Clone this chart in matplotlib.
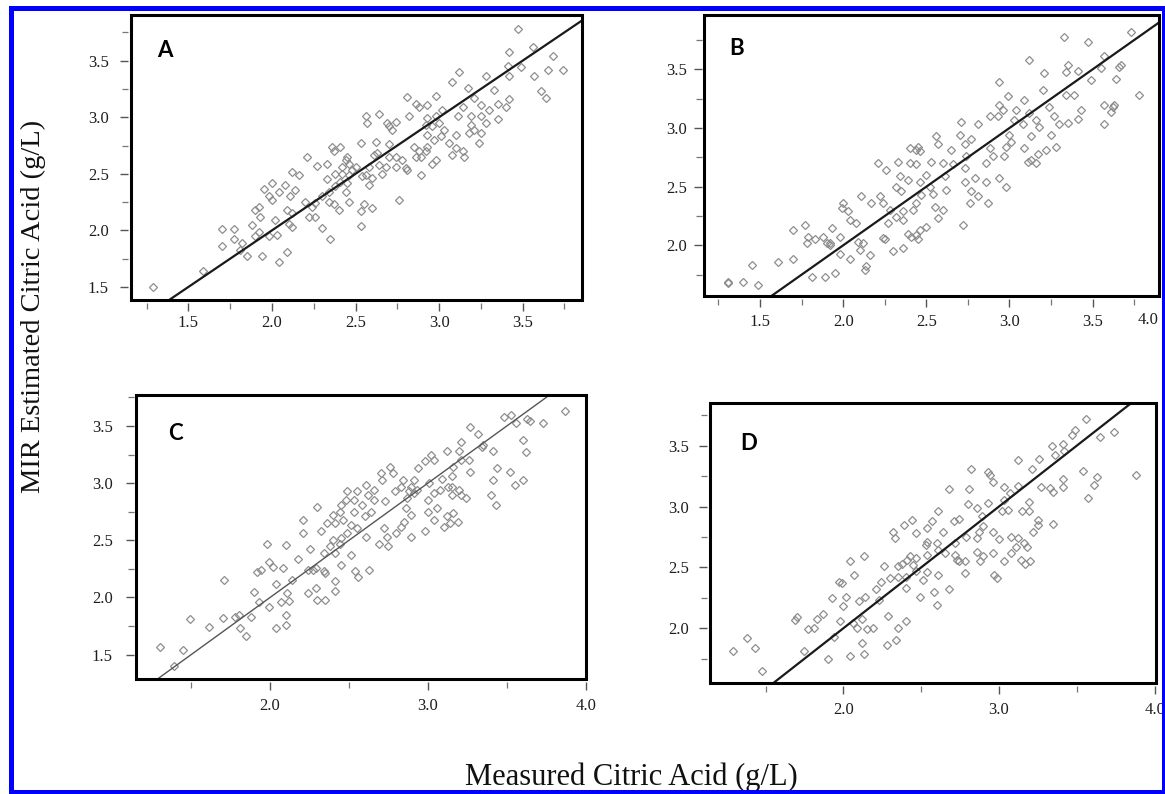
import matplotlib
matplotlib.use("Agg")
import matplotlib.pyplot as plt
from matplotlib.patches import Rectangle
from matplotlib.ticker import MultipleLocator

plt.rcParams['font.family'] = ['Liberation Serif', 'DejaVu Serif']

a_measured = [3.47, 3.42, 3.56, 3.68, 3.74, 3.65, 3.57, 3.49, 3.42, 3.41, 3.61, 3.64, 3.28, 3.33, 3.42, 3.35,
              3.40, 3.12, 3.08, 3.17, 3.21, 3.25, 3.30, 3.35, 3.25, 3.19, 3.14, 3.11, 3.28, 3.19, 3.21, 3.18,
              3.24, 3.25, 3.10, 3.06, 3.03, 3.01, 2.98, 2.93, 2.88, 2.81, 2.86, 3.02, 2.98, 2.93, 2.92, 2.96,
              3.00, 2.93, 2.97, 2.93, 2.88, 2.85, 2.92, 2.89, 2.86, 2.96, 2.98, 2.89, 3.08, 3.14, 3.15, 3.10,
              2.82, 2.74, 2.70, 2.72, 2.69, 2.64, 2.56, 2.57, 2.62, 2.53, 2.70, 2.70, 2.74, 2.78, 2.80, 2.81,
              2.74, 2.68, 2.66, 2.64, 2.61, 2.63, 2.58, 2.56, 2.60, 2.58, 2.54, 2.50, 2.48, 2.46, 2.44, 2.45,
              2.42, 2.42, 2.46, 2.41, 2.45, 2.44, 2.38, 2.41, 2.36, 2.37, 2.33, 2.27, 2.21, 2.33, 2.38, 2.34,
              2.30, 2.34, 2.37, 2.40, 2.46, 2.53, 2.55, 2.60, 2.53, 2.76, 2.30, 2.35, 2.26, 2.24, 2.22, 2.26,
              2.20, 2.16, 2.12, 2.14, 2.08, 2.11, 2.09, 2.12, 2.12, 2.10, 2.04, 2.00, 1.95, 1.98, 2.00, 2.02,
              2.03, 1.98, 1.92, 1.90, 1.93, 1.88, 1.92, 1.90, 1.94, 2.04, 2.09, 1.85, 1.81, 1.77, 1.77, 1.82,
              1.70, 1.70, 1.59, 1.29]
a_estimated = [3.78, 3.58, 3.62, 3.54, 3.42, 3.42, 3.36, 3.44, 3.36, 3.45, 3.23, 3.17, 3.36, 3.24, 3.16, 3.12,
               3.09, 3.40, 3.31, 3.26, 3.17, 3.11, 3.06, 2.98, 3.01, 3.01, 3.09, 3.01, 2.95, 2.93, 2.89, 2.86,
               2.77, 2.86, 2.84, 2.77, 2.89, 2.83, 3.19, 3.11, 3.09, 3.18, 3.12, 3.06, 3.01, 2.99, 2.93, 2.92,
               2.95, 2.84, 2.80, 2.74, 2.70, 2.74, 2.70, 2.65, 2.65, 2.59, 2.62, 2.49, 2.67, 2.70, 2.65, 2.73,
               3.01, 2.96, 2.92, 2.89, 2.95, 3.03, 3.01, 2.95, 2.78, 2.77, 2.76, 2.65, 2.65, 2.62, 2.55, 2.53,
               2.56, 2.56, 2.50, 2.58, 2.67, 2.68, 2.56, 2.49, 2.46, 2.40, 2.48, 2.56, 2.53, 2.59, 2.62, 2.65,
               2.56, 2.50, 2.49, 2.43, 2.42, 2.34, 2.50, 2.74, 2.74, 2.70, 2.59, 2.57, 2.65, 2.45, 2.39, 2.34,
               2.30, 2.25, 2.23, 2.18, 2.25, 2.17, 2.23, 2.20, 2.04, 2.27, 2.02, 1.92, 2.24, 2.21, 2.12, 2.12,
               2.25, 2.49, 2.52, 2.36, 2.40, 2.30, 2.18, 2.15, 2.03, 2.06, 2.34, 2.42, 2.37, 2.30, 2.27, 2.09,
               1.96, 1.95, 2.21, 2.18, 2.12, 2.05, 1.99, 1.95, 1.77, 1.72, 1.81, 1.77, 1.83, 1.92, 2.01, 1.89,
               2.01, 1.86, 1.64, 1.50]

b_measured = [3.73, 3.33, 3.47, 3.12, 3.21, 3.35, 3.34, 3.41, 3.49, 3.57, 3.55, 3.67, 3.66, 3.64, 3.78, 2.94,
              2.99, 2.94, 2.96, 2.93, 2.88, 3.04, 3.09, 3.03, 3.08, 3.12, 3.20, 3.24, 3.27, 3.16, 3.18, 3.25,
              3.28, 3.22, 3.17, 3.13, 3.11, 3.16, 3.09, 3.13, 3.00, 3.01, 2.97, 2.98, 2.94, 2.98, 2.86, 2.87,
              2.88, 2.90, 2.86, 2.81, 2.77, 2.71, 2.70, 2.73, 2.74, 2.73, 2.73, 2.79, 2.77, 2.76, 2.81, 2.72,
              2.66, 2.65, 2.60, 2.61, 2.62, 2.56, 2.57, 2.53, 2.50, 2.52, 2.54, 2.50, 2.57, 2.55, 2.60, 2.45,
              2.44, 2.46, 2.40, 2.40, 2.44, 2.39, 2.46, 2.47, 2.44, 2.42, 2.33, 2.34, 2.32, 2.35, 2.36, 2.36,
              2.32, 2.39, 2.41, 2.45, 2.44, 2.46, 2.36, 2.30, 2.27, 2.28, 2.24, 2.22, 2.21, 2.26, 2.17, 2.24,
              2.25, 2.16, 2.14, 2.13, 2.10, 2.12, 2.09, 2.11, 2.08, 2.04, 2.03, 2.00, 1.99, 1.98, 1.98, 2.04,
              1.92, 1.90, 1.93, 1.92, 1.88, 1.95, 1.89, 1.81, 1.78, 1.77, 1.79, 1.83, 1.70, 1.70, 1.61, 1.45,
              1.49, 1.40, 1.31, 1.31, 3.30, 3.35, 3.41, 3.43, 3.39, 3.34, 3.57, 3.57, 3.62, 3.63, 3.61]
b_estimated = [3.82, 3.78, 3.73, 3.58, 3.47, 3.54, 3.48, 3.49, 3.41, 3.61, 3.51, 3.54, 3.52, 3.42, 3.28, 3.39,
               3.27, 3.20, 3.15, 3.10, 3.10, 3.15, 3.24, 3.07, 3.03, 3.13, 3.32, 3.18, 3.10, 3.07, 3.01, 2.94,
               2.84, 2.81, 2.78, 2.73, 2.71, 2.70, 2.83, 2.93, 2.94, 2.88, 2.76, 2.84, 2.57, 2.50, 2.54, 2.36,
               2.83, 2.76, 2.70, 3.03, 2.91, 3.05, 2.94, 2.86, 2.76, 2.66, 2.54, 2.57, 2.46, 2.36, 2.42, 2.17,
               2.69, 2.81, 2.70, 2.59, 2.47, 2.93, 2.86, 2.71, 2.60, 2.50, 2.44, 2.16, 2.23, 2.33, 2.30, 2.84,
               2.81, 2.80, 2.83, 2.70, 2.69, 2.56, 2.54, 2.43, 2.36, 2.30, 2.71, 2.59, 2.50, 2.46, 2.29, 2.22,
               2.24, 2.10, 2.07, 2.05, 2.09, 2.13, 1.98, 1.95, 2.19, 2.30, 2.36, 2.42, 2.70, 2.64, 2.36, 2.06,
               2.05, 1.92, 1.82, 1.79, 1.96, 2.02, 2.03, 2.42, 2.19, 2.22, 2.29, 2.36, 2.32, 2.07, 1.93, 1.88,
               2.02, 2.02, 2.15, 2.00, 2.07, 1.76, 1.73, 1.73, 2.02, 2.17, 2.07, 2.05, 2.13, 1.88, 1.86, 1.83,
               1.66, 1.69, 1.69, 1.68, 3.03, 3.04, 3.08, 3.15, 3.28, 3.28, 3.03, 3.20, 3.18, 3.20, 3.14]

c_measured = [3.87, 3.73, 3.65, 3.63, 3.56, 3.48, 3.53, 3.60, 3.62, 3.60, 3.55, 3.52, 3.44, 3.41, 3.40, 3.43,
              3.41, 3.34, 3.35, 3.32, 3.27, 3.21, 3.20, 3.26, 3.27, 3.21, 3.16, 3.12, 3.09, 3.13, 3.15, 3.02,
              3.04, 2.98, 2.94, 2.91, 2.89, 2.91, 2.93, 2.88, 2.87, 2.84, 2.83, 3.01, 3.04, 3.08, 3.15, 3.20,
              3.21, 3.24, 3.15, 3.00, 3.06, 3.00, 3.12, 3.10, 3.14, 3.19, 3.16, 3.04, 2.98, 2.89, 2.85, 2.83,
              2.80, 2.89, 2.86, 2.75, 2.74, 2.72, 2.69, 2.73, 2.79, 2.76, 2.78, 2.70, 2.71, 2.66, 2.66, 2.62,
              2.61, 2.55, 2.53, 2.58, 2.53, 2.60, 2.64, 2.49, 2.48, 2.45, 2.44, 2.40, 2.36, 2.41, 2.46, 2.51,
              2.55, 2.61, 2.49, 2.45, 2.44, 2.40, 2.38, 2.34, 2.32, 2.30, 2.21, 2.21, 2.25, 2.18, 2.24, 2.27,
              2.29, 2.34, 2.35, 2.41, 2.45, 2.51, 2.54, 2.56, 2.63, 2.41, 2.41, 2.29, 2.24, 2.30, 2.35, 2.10,
              2.08, 2.14, 2.11, 2.12, 2.07, 2.04, 2.02, 1.99, 1.98, 1.94, 1.92, 1.90, 1.93, 1.99, 2.04, 2.10,
              2.10, 1.88, 1.80, 1.78, 1.81, 1.85, 1.71, 1.70, 1.61, 1.49, 1.45, 1.39, 1.30]
c_estimated = [3.63, 3.53, 3.54, 3.56, 3.53, 3.58, 3.60, 3.38, 3.27, 3.03, 2.98, 3.10, 3.13, 3.03, 2.90, 2.81,
               3.28, 3.32, 3.33, 3.43, 3.49, 3.36, 3.28, 3.20, 3.10, 3.20, 3.14, 3.28, 3.04, 2.97, 3.06, 3.25,
               3.20, 3.19, 3.13, 3.03, 2.97, 2.91, 2.94, 2.93, 2.87, 3.03, 2.97, 3.00, 2.91, 2.94, 2.97, 2.94,
               2.90, 2.87, 2.90, 2.85, 2.78, 2.75, 2.71, 2.62, 2.65, 2.66, 2.74, 2.68, 2.58, 2.53, 2.66, 2.62,
               2.56, 2.72, 2.78, 2.45, 2.53, 2.61, 2.47, 2.84, 2.93, 3.14, 3.09, 3.09, 3.03, 2.94, 2.85, 2.90,
               2.98, 2.93, 2.85, 2.81, 2.75, 2.71, 2.75, 2.93, 2.85, 2.81, 2.75, 2.72, 2.65, 2.65, 2.68, 2.63,
               2.61, 2.53, 2.56, 2.52, 2.47, 2.50, 2.45, 2.39, 2.58, 2.79, 2.68, 2.56, 2.42, 2.34, 2.24, 2.24,
               2.26, 2.23, 2.21, 2.39, 2.28, 2.37, 2.23, 2.18, 2.24, 2.14, 2.06, 2.08, 2.04, 1.98, 1.98, 2.46,
               2.26, 2.15, 2.04, 1.97, 1.96, 2.12, 2.27, 2.31, 2.47, 2.24, 2.22, 2.05, 1.96, 1.92, 1.73, 1.76,
               1.85, 1.83, 1.85, 1.83, 1.73, 1.66, 2.15, 1.82, 1.74, 1.81, 1.54, 1.40, 1.57]

d_measured = [3.56, 3.49, 3.47, 3.41, 3.34, 3.26, 3.36, 3.42, 3.65, 3.74, 3.54, 3.63, 3.61, 3.57, 3.88, 3.41,
              3.41, 3.35, 3.33, 3.27, 3.35, 3.25, 3.25, 3.22, 3.12, 3.21, 3.12, 3.07, 3.03, 2.96, 2.93, 2.94,
              2.82, 2.81, 2.68, 2.80, 2.86, 2.93, 3.03, 3.06, 3.02, 3.19, 3.15, 3.19, 2.96, 3.00, 3.08, 3.12,
              3.16, 3.18, 3.11, 3.08, 3.03, 3.14, 3.17, 3.20, 2.97, 2.99, 2.96, 2.90, 2.88, 2.86, 2.90, 2.89,
              2.87, 2.86, 2.79, 2.78, 2.78, 2.74, 2.73, 2.72, 2.72, 2.71, 2.74, 2.64, 2.65, 2.61, 2.60, 2.61,
              2.57, 2.54, 2.53, 2.54, 2.54, 2.51, 2.49, 2.58, 2.60, 2.68, 2.61, 2.47, 2.45, 2.47, 2.43, 2.41,
              2.38, 2.35, 2.40, 2.40, 2.35, 2.33, 2.32, 2.39, 2.44, 2.47, 2.54, 2.26, 2.30, 2.24, 2.21, 2.23,
              2.13, 2.04, 2.07, 1.97, 1.99, 1.93, 2.02, 2.00, 2.10, 2.14, 2.12, 2.06, 2.09, 2.15, 2.12, 2.13,
              2.04, 2.29, 2.35, 2.40, 2.34, 2.28, 2.19, 1.98, 1.94, 1.90, 1.87, 1.83, 1.81, 1.77, 1.75, 1.70,
              1.69, 1.48, 1.43, 1.38, 1.29]
d_estimated = [3.72, 3.63, 3.59, 3.51, 3.50, 3.39, 3.42, 3.46, 3.57, 3.61, 3.29, 3.24, 3.18, 3.07, 3.26, 3.23,
               3.16, 3.12, 3.15, 3.16, 2.86, 2.89, 2.85, 2.79, 3.38, 3.31, 3.17, 3.11, 3.16, 3.20, 3.28, 3.26,
               3.31, 3.14, 3.14, 3.02, 2.99, 3.03, 3.05, 2.97, 2.96, 3.04, 2.96, 2.96, 2.79, 2.73, 2.75, 2.74,
               2.70, 2.67, 2.67, 2.62, 2.55, 2.56, 2.53, 2.55, 2.44, 2.41, 2.62, 2.59, 2.55, 2.63, 2.84, 2.92,
               2.79, 2.74, 2.75, 2.55, 2.45, 2.55, 2.56, 2.60, 2.70, 2.88, 2.90, 2.79, 2.62, 2.64, 2.70, 2.96,
               2.88, 2.82, 2.68, 2.60, 2.46, 2.40, 2.26, 2.30, 2.19, 2.32, 2.44, 2.47, 2.52, 2.58, 2.59, 2.56,
               2.53, 2.51, 2.42, 2.33, 2.42, 2.74, 2.79, 2.85, 2.89, 2.78, 2.71, 2.51, 2.41, 2.38, 2.32, 2.23,
               2.59, 2.55, 2.44, 2.38, 2.37, 2.25, 2.26, 2.18, 2.22, 2.26, 2.08, 2.04, 2.00, 1.99, 1.88, 1.79,
               1.77, 2.10, 2.00, 2.06, 1.90, 1.86, 2.00, 2.06, 1.93, 1.75, 2.12, 2.08, 2.00, 1.99, 1.81, 2.09,
               2.07, 1.65, 1.84, 1.92, 1.81]

panel_letters = ["A", "B", "C", "D"]

W, H = 1165, 794
fig = plt.figure(figsize=(W / 100, H / 100), dpi=100)
fig.patch.set_facecolor("white")


def make_panel(rect, xs, ys, letter, letter_pos, xlim, ylim, xmajor, xminor,
               yticks, ypad, xpad, line_color="#1a1a1a", line_w=1.6):
    ax = fig.add_axes(rect)
    ax.plot(xs, ys, linestyle="none", marker="D", ms=3.9, mfc="none",
            mec="#8e8e8e", mew=0.9, zorder=2)
    ax.axline((2.0, 2.0), slope=1, color=line_color, lw=line_w, zorder=3)
    ax.set_xlim(*xlim)
    ax.set_ylim(*ylim)
    ax.xaxis.set_major_locator(MultipleLocator(xmajor))
    ax.xaxis.set_minor_locator(MultipleLocator(xminor))
    ax.set_yticks(yticks)
    ax.yaxis.set_minor_locator(MultipleLocator(0.25))
    ax.xaxis.set_major_formatter(plt.FormatStrFormatter("%.1f"))
    ax.yaxis.set_major_formatter(plt.FormatStrFormatter("%.1f"))
    for s in ax.spines.values():
        s.set_visible(False)
    ax.spines["left"].set_position(("outward", 2))
    ax.spines["bottom"].set_position(("outward", 2))
    ax.tick_params(which="major", direction="out", length=5.5, width=1.0,
                   color="#555555", labelsize=12, labelcolor="#1e1e1e")
    ax.tick_params(which="minor", direction="out", length=4, width=0.9,
                   color="#777777")
    ax.tick_params(axis="y", which="major", pad=ypad)
    ax.tick_params(axis="x", which="major", pad=xpad)
    ax.add_patch(Rectangle((0, 0), 1, 1, transform=ax.transAxes, fill=False,
                           ec="black", lw=2.2, clip_on=False, zorder=5))
    ax.text(letter_pos[0], letter_pos[1], letter, transform=ax.transAxes,
            fontfamily="Lato", fontweight="bold", fontsize=16,
            ha="center", va="center")
    return ax


ax_a = make_panel([0.1122, 0.6222, 0.3874, 0.3593], a_measured, a_estimated,
                  panel_letters[0], (0.076, 0.874), (1.155, 3.855), (1.385, 3.906),
                  0.5, 0.25, [1.5, 2.0, 2.5, 3.0, 3.5], 8.4, 3.5)
ax_b = make_panel([0.6046, 0.6272, 0.3902, 0.3543], b_measured, b_estimated,
                  panel_letters[1], (0.071, 0.881), (1.165, 3.899), (1.568, 3.966),
                  0.5, 0.25, [2.0, 2.5, 3.0, 3.5], 4.8, 5.5)
# etiqueta 4.0 desplazada, como en el original
ax_b.text(0.975, -0.056, "4.0", transform=ax_b.transAxes, ha="center", va="top",
          fontsize=12, color="#1e1e1e")
ax_c = make_panel([0.1170, 0.1445, 0.3857, 0.3584], c_measured, c_estimated,
                  panel_letters[2], (0.086, 0.864), (1.152, 4.0), (1.284, 3.774),
                  1.0, 0.5, [1.5, 2.0, 2.5, 3.0, 3.5], 9.4, 6.0,
                  line_color="#555555", line_w=1.0)
ax_d = make_panel([0.6094, 0.1394, 0.3829, 0.3527], d_measured, d_estimated,
                  panel_letters[3], (0.086, 0.857), (1.143, 4.009), (1.548, 3.848),
                  1.0, 0.5, [2.0, 2.5, 3.0, 3.5], 7.7, 6.0)

fig.text(0.0288, 0.614, "MIR Estimated Citric Acid (g/L)", rotation=90,
         ha="center", va="center", fontsize=20.5, color="#111111")
fig.text(0.5416, 0.0113, "Measured Citric Acid (g/L)", ha="center",
         va="baseline", fontsize=22, color="#111111")

# marco azul
fig.add_artist(Rectangle((10.5 / W, 1 - 792 / H), (1164 - 10.5) / W, (792 - 8) / H,
                         transform=fig.transFigure, fill=False, ec="#0000ff",
                         lw=3.6, zorder=10))

fig.savefig("out.png", dpi=100)
